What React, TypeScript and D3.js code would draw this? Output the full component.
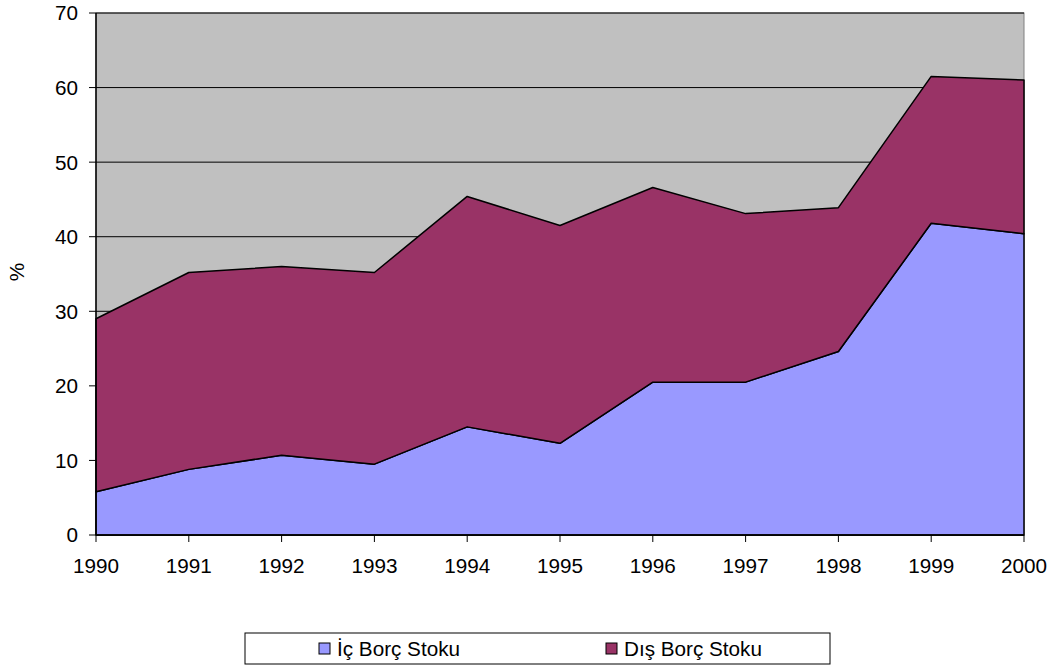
import * as d3 from "d3";

const years = [1990, 1991, 1992, 1993, 1994, 1995, 1996, 1997, 1998, 1999, 2000];
const icBorc = [5.8, 8.8, 10.7, 9.5, 14.5, 12.3, 20.5, 20.5, 24.6, 41.8, 40.4];
const disBorc = [23.2, 26.4, 25.3, 25.7, 30.9, 29.2, 26.1, 22.6, 19.3, 19.7, 20.6];
const yTicks = [0, 10, 20, 30, 40, 50, 60, 70];

const seriesNames = ["İç Borç Stoku", "Dış Borç Stoku"];
const seriesColors = ["#9999FF", "#993366"];

export default function App() {
  const width = 1057;
  const height = 672;
  const margin = { top: 13, right: 33, bottom: 137, left: 96 };
  const innerWidth = width - margin.left - margin.right;
  const innerHeight = height - margin.top - margin.bottom;

  const x = d3.scaleLinear().domain([1990, 2000]).range([0, innerWidth]);
  const y = d3.scaleLinear().domain([0, 70]).range([innerHeight, 0]);

  const rows = years.map((yr, i) => ({ year: yr, ic: icBorc[i], dis: disBorc[i] }));
  const stacked = d3.stack<any>().keys(["ic", "dis"])(rows);

  const area = d3
    .area<any>()
    .x((d) => x(d.data.year))
    .y0((d) => y(d[0]))
    .y1((d) => y(d[1]));

  const font = "Arial, 'Liberation Sans', sans-serif";
  const fs = 20.7;

  return (
    <svg width={width} height={height} style={{ position: "absolute", left: 0, top: 0 }} fontFamily={font}>
      <g transform={`translate(${margin.left},${margin.top})`}>
        <rect x={0} y={0} width={innerWidth} height={innerHeight} fill="#C0C0C0" stroke="#808080" strokeWidth={1} />
        {yTicks.map((t) => (
          <line key={`g-${t}`} x1={0} x2={innerWidth} y1={y(t)} y2={y(t)} stroke="#000" strokeWidth={1} />
        ))}
        {stacked.map((s, i) => (
          <path key={s.key} d={area(s) ?? ""} fill={seriesColors[i]} stroke="#000" strokeWidth={1.5} strokeLinejoin="round" />
        ))}
        <line x1={0} x2={0} y1={0} y2={innerHeight} stroke="#000" strokeWidth={1.5} />
        <line x1={0} x2={innerWidth} y1={innerHeight} y2={innerHeight} stroke="#000" strokeWidth={1.5} />
        {yTicks.map((t) => (
          <g key={`y-${t}`} transform={`translate(0,${y(t)})`}>
            <line x1={-7} x2={0} stroke="#000" />
            <text x={-18} dy="0.36em" textAnchor="end" fontSize={fs} fill="#000">
              {t}
            </text>
          </g>
        ))}
        {years.map((yr) => (
          <g key={`x-${yr}`} transform={`translate(${x(yr)},${innerHeight})`}>
            <line y1={0} y2={7} stroke="#000" />
            <text y={38} textAnchor="middle" fontSize={fs} fill="#000">
              {yr}
            </text>
          </g>
        ))}
        <text
          transform={`translate(${-72},${259}) rotate(-90)`}
          textAnchor="middle"
          fontSize={fs}
          fill="#000"
        >
          %
        </text>
      </g>
      <g transform="translate(245,633)">
        <rect x={0} y={0} width={585} height={31} fill="#fff" stroke="#000" strokeWidth={1} />
        {seriesNames.map((name, i) => (
          <g key={name} transform={`translate(${i === 0 ? 74 : 361},0)`}>
            <rect x={0} y={10} width={11} height={11} fill={seriesColors[i]} stroke="#000" strokeWidth={1} />
            <text x={18} y={23} fontSize={fs} fill="#000">
              {name}
            </text>
          </g>
        ))}
      </g>
    </svg>
  );
}
